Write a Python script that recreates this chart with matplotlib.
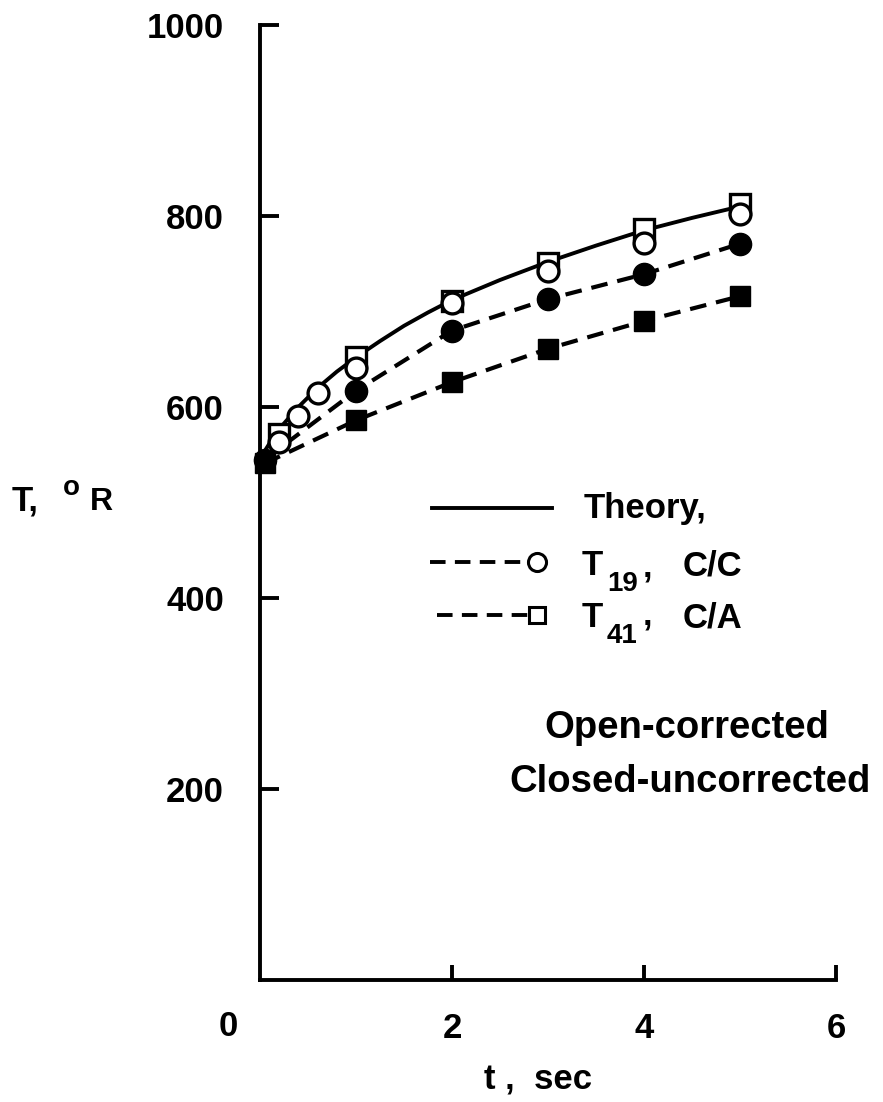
import matplotlib.pyplot as plt
from matplotlib.lines import Line2D

plt.rcParams['font.family'] = ['Liberation Sans', 'DejaVu Sans']
plt.rcParams['font.weight'] = 'bold'

# theory curve
t_theory = [0, 0.1, 0.2, 0.4, 0.6, 0.8, 1, 1.25, 1.5, 1.75, 2, 2.5, 3, 3.5, 4, 4.5, 5]
T_theory = [546, 562, 577, 600, 620, 637, 652, 669, 685, 699, 712, 733, 752, 769, 785, 798, 810]

# open (corrected) points
t_open_c = [0.2, 0.4, 0.6, 1, 2, 3, 4, 5]
T19_open = [563, 591, 615, 641, 709, 742, 772, 802]
t_open_s = [0.2, 1, 2, 3, 4, 5]
T41_open = [572, 652, 711, 751, 786, 813]

# closed (uncorrected) points
t_closed = [0.05, 1, 2, 3, 4, 5]
T19_closed = [545, 617, 680, 713, 739, 771]
T41_closed = [541, 586, 626, 661, 690, 716]

x_ticks = [2, 4, 6]
y_ticks = [200, 400, 600, 800, 1000]

W, H = 883, 1102
fig = plt.figure(figsize=(W / 100, H / 100), dpi=100)
ax = fig.add_axes([260 / W, 1 - 980 / H, 576 / W, 955 / H])

def fx(px):
    return px / W

def fy(py):
    return 1 - py / H

lw = 3
dash = (4, 2.4)
ax.plot(t_theory, T_theory, 'k-', lw=2.8, clip_on=False, zorder=3)
ax.plot(t_closed, T19_closed, 'k', lw=lw, dashes=dash, clip_on=False, zorder=2)
ax.plot(t_closed, T41_closed, 'k', lw=lw, dashes=dash, clip_on=False, zorder=2)
ax.plot(t_closed, T19_closed, 'ko', ms=16, clip_on=False, zorder=4)
ax.plot(t_closed, T41_closed, 'ks', ms=15, clip_on=False, zorder=4)
ax.plot(t_open_s, T41_open, 's', ms=14, mfc='white', mec='k', mew=2.4, clip_on=False, zorder=5)
ax.plot(t_open_c, T19_open, 'o', ms=15, mfc='white', mec='k', mew=2.4, clip_on=False, zorder=6)

ax.set_xlim(0, 6)
ax.set_ylim(0, 1000)
for s in ['top', 'right']:
    ax.spines[s].set_visible(False)
for s in ['left', 'bottom']:
    ax.spines[s].set_linewidth(2.8)

ax.set_yticks(y_ticks)
ax.set_yticklabels([str(v) for v in y_ticks])
ax.set_xticks(x_ticks)
ax.set_xticklabels([str(v) for v in x_ticks])
ax.tick_params(axis='y', direction='in', length=14, width=2.8, pad=26,
               labelsize=25)
ax.tick_params(axis='x', direction='in', length=11, width=2.8, pad=23,
               labelsize=25)

# "0" sits left of the axis corner
fig.text(fx(228), fy(1027), '0', fontsize=25, ha='center', va='center')

# axis labels
fig.text(fx(538), fy(1080), 't ,  sec', fontsize=25, ha='center', va='center')
fig.text(fx(12), fy(510), 'T,', fontsize=25, ha='left', va='baseline')
fig.text(fx(63), fy(495), 'o', fontsize=20, ha='left', va='baseline')
fig.text(fx(90), fy(510), 'R', fontsize=23, ha='left', va='baseline')

# legend drawn by hand
fig.add_artist(Line2D([fx(432), fx(552)], [fy(508), fy(508)], color='k', lw=2.8))
fig.add_artist(Line2D([fx(430), fx(529)], [fy(562), fy(562)], color='k', lw=2.8,
                      dashes=dash))
fig.add_artist(Line2D([fx(537)], [fy(562)], marker='o', ms=13, mfc='white',
                      mec='k', mew=2.2))
fig.add_artist(Line2D([fx(437), fx(529)], [fy(615), fy(615)], color='k', lw=2.8,
                      dashes=dash))
fig.add_artist(Line2D([fx(537)], [fy(615)], marker='s', ms=12, mfc='white',
                      mec='k', mew=2.2))

fig.text(fx(584), fy(518), 'Theory,', fontsize=25, ha='left', va='baseline')
fig.text(fx(582), fy(575), 'T', fontsize=25, ha='left', va='baseline')
fig.text(fx(607), fy(591), '19', fontsize=20, ha='left', va='baseline')
fig.text(fx(643), fy(576), ',', fontsize=25, ha='left', va='baseline')
fig.text(fx(683), fy(575), 'C/C', fontsize=25, ha='left', va='baseline')
fig.text(fx(582), fy(627), 'T', fontsize=25, ha='left', va='baseline')
fig.text(fx(607), fy(643), '41', fontsize=20, ha='left', va='baseline')
fig.text(fx(643), fy(625), ',', fontsize=25, ha='left', va='baseline')
fig.text(fx(683), fy(627), 'C/A', fontsize=25, ha='left', va='baseline')

fig.text(fx(687), fy(728), 'Open-corrected', fontsize=27.5, ha='center',
         va='center')
fig.text(fx(690), fy(782), 'Closed-uncorrected', fontsize=27.5, ha='center',
         va='center')

fig.savefig('out.png', dpi=100)
